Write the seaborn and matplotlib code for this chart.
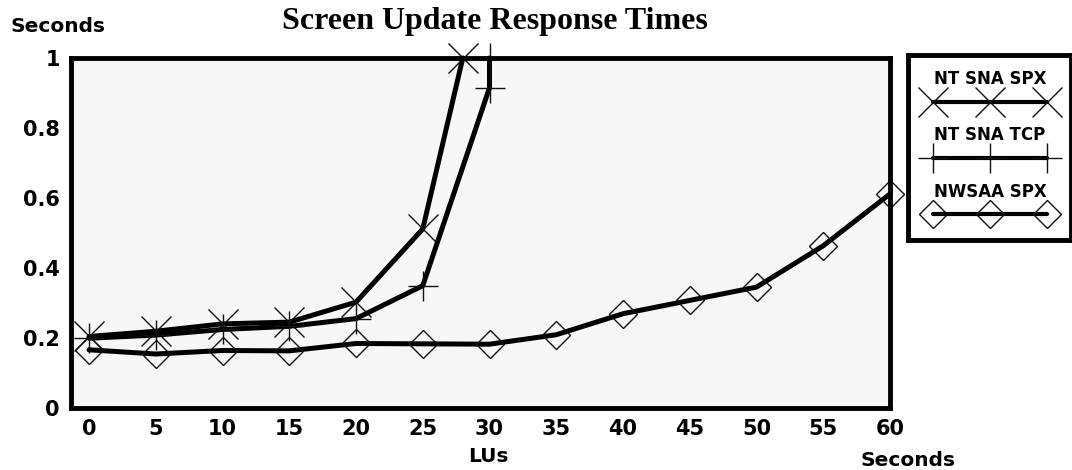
import numpy as np
import pandas as pd
import matplotlib
matplotlib.use("Agg")
import matplotlib.pyplot as plt
import seaborn as sns

# values
spx_lus = [0, 5, 10, 15, 20, 25, 28]
spx_sec = [0.205, 0.220, 0.241, 0.246, 0.303, 0.512, 1.0]

tcp_lus = [0, 5, 10, 15, 20, 25, 30, 30]
tcp_sec = [0.200, 0.209, 0.225, 0.234, 0.256, 0.350, 0.915, 1.0]

nwsaa_lus = [0, 5, 10, 15, 20, 25, 30, 35, 40, 45, 50, 55, 60]
nwsaa_sec = [0.167, 0.155, 0.165, 0.164, 0.185, 0.184, 0.183, 0.210, 0.270,
             0.308, 0.346, 0.464, 0.612]

series_names = ["NT SNA SPX", "NT SNA TCP", "NWSAA SPX"]
series_markers = ["x", "+", "D"]
x_ticks = list(range(0, 65, 5))
y_ticks = [0, 0.2, 0.4, 0.6, 0.8, 1]

sns.set_style("white")
plt.rcParams["font.family"] = ["DejaVu Sans"]
plt.rcParams["font.weight"] = "bold"
plt.rcParams["text.color"] = "black"
plt.rcParams["xtick.labelcolor"] = "black"
plt.rcParams["ytick.labelcolor"] = "black"

W, H = 1072, 470
fig = plt.figure(figsize=(W / 100, H / 100), dpi=100)

# main axes, pixel box from the reference
L, R, T, B = 71, 890, 58, 408.3
ax = fig.add_axes([L / W, 1 - B / H, (R - L) / W, (B - T) / H])
ax.set_facecolor("#f7f7f7")

frames = [
    pd.DataFrame({"LUs": spx_lus, "sec": spx_sec}),
    pd.DataFrame({"LUs": tcp_lus, "sec": tcp_sec}),
    pd.DataFrame({"LUs": nwsaa_lus, "sec": nwsaa_sec}),
]
msizes = [21, 21, 14]
for df, mk, ms in zip(frames, series_markers, msizes):
    sns.lineplot(data=df, x="LUs", y="sec", ax=ax, estimator=None, sort=False,
                 color="black", linewidth=3.6, marker=mk, markersize=ms,
                 markeredgewidth=1.0, markeredgecolor="#111111",
                 markerfacecolor="none", clip_on=False, zorder=3)

ax.set_xlim(60 - (R - L) / ((890 - 89) / 60), 60)
ax.set_ylim(0, 1)
ax.set_xticks(x_ticks)
ax.set_xticklabels([str(v) for v in x_ticks])
ax.set_yticks(y_ticks)
ax.set_yticklabels(["0", "0.2", "0.4", "0.6", "0.8", "1"])
ax.set_yticks([0.1, 0.3, 0.5, 0.7, 0.9], minor=True)
ax.tick_params(axis="x", direction="in", length=9, width=1, color="#222222",
               pad=8, labelsize=15, labelcolor="black")
ax.tick_params(axis="y", which="major", direction="in", length=10, width=1,
               color="#222222", pad=8, labelsize=15, labelcolor="black")
ax.tick_params(axis="y", which="minor", direction="in", length=6, width=1,
               color="#222222")
ax.set_xlabel("")
ax.set_ylabel("")
for sp in ax.spines.values():
    sp.set_visible(True)
    sp.set_linewidth(3.5)
    sp.set_color("black")
    sp.set_zorder(4)

# texts
fig.text(495 / W, 1 - 29 / H, "Screen Update Response Times", ha="center",
         va="baseline", fontsize=23, fontweight="bold", color="black",
         family=["Liberation Serif", "DejaVu Serif"])
fig.text(10 / W, 1 - 32 / H, "Seconds", ha="left", va="baseline", fontsize=14.5,
         fontweight="bold", color="black")
fig.text(488 / W, 1 - 462 / H, "LUs", ha="center", va="baseline", fontsize=14.5,
         fontweight="bold", color="black")
fig.text(908 / W, 1 - 465.5 / H, "Seconds", ha="center", va="baseline",
         fontsize=14.5, fontweight="bold", color="black")

# legend box
lx0, lx1, ly0, ly1 = 908, 1071, 55, 240
lax = fig.add_axes([lx0 / W, 1 - ly1 / H, (lx1 - lx0) / W, (ly1 - ly0) / H])
lax.set_xlim(lx0, lx1)
lax.set_ylim(ly1, ly0)
lax.set_xticks([])
lax.set_yticks([])
lax.set_facecolor("white")
for sp in lax.spines.values():
    sp.set_linewidth(3.5)
    sp.set_color("black")

text_y = [79, 135, 192]
line_y = [102, 158, 214]
for name, mk, ms, ty, ly in zip(series_names, series_markers, msizes, text_y, line_y):
    lax.text(990, ty, name, ha="center", va="center", fontsize=12,
             fontweight="bold", color="black")
    lax.plot([933, 990, 1047], [ly, ly, ly], color="black", linewidth=3.0,
             marker=mk, markersize=ms, markeredgewidth=1.0,
             markeredgecolor="#111111", markerfacecolor="none", clip_on=False)

fig.savefig("out.png", dpi=100)
